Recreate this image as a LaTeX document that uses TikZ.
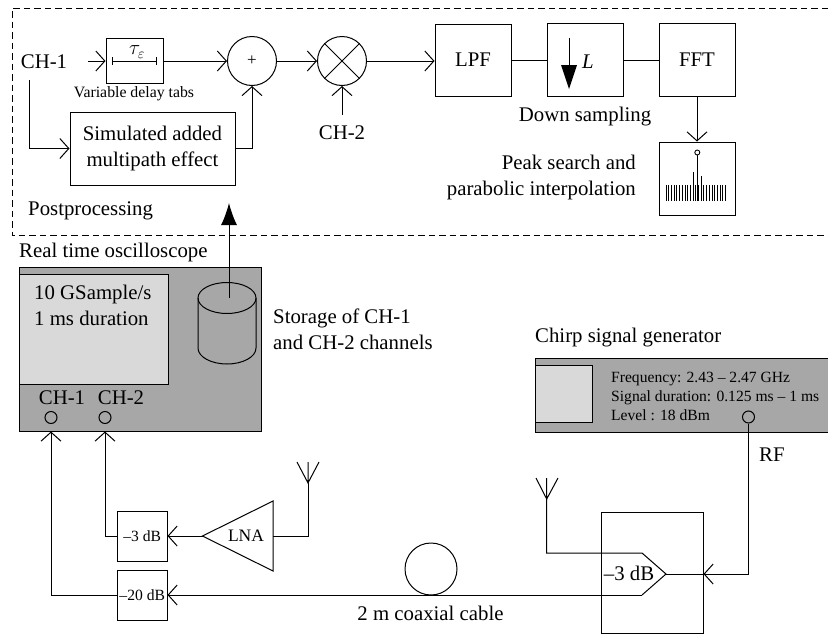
\documentclass[tikz,border=0pt]{standalone}
\usepackage{fontspec}
\setmainfont{Liberation Serif}
\usepackage{tikz}
\usetikzlibrary{arrows.meta}
\definecolor{MyCase}{rgb}{0.65,0.655,0.65}
\definecolor{MyScreen}{rgb}{0.85,0.85,0.85}
\newcommand{\bigtext}{\fontsize{20.8}{26}\selectfont}
\newcommand{\midtext}{\fontsize{15.6}{19}\selectfont}
\newcommand{\smalltext}{\fontsize{15.8}{16}\selectfont}
\tikzset{
  block/.style={draw, line width=1pt, inner sep=0pt, font=\bigtext, align=center},
  sumnode/.style={draw, circle, line width=1pt, inner sep=0pt, minimum size=49pt, font=\bigtext},
  port/.style={draw, circle, line width=1pt, inner sep=0pt, minimum size=12pt},
  label/.style={inner sep=0pt, font=\bigtext, align=left},
  wire/.style={line width=1pt},
  feed/.style={line width=1pt, -{Straight Barb[length=9pt,width=20pt,line width=1pt]}}
}
\begin{document}
\begin{tikzpicture}[x=1pt,y=-1pt]
  \useasboundingbox (0,0) rectangle (828,635);
  % postprocessing part
  \draw [wire, dash pattern=on 6.5pt off 4pt] (828,8) -- (12,8) -- (12,235) -- (828,235);
  \node [label] (ch1in) at (44,62) {CH-1};
  \node [block, minimum width=57pt, minimum height=45pt] (delay) at (134.5,61) {};
  \node [block, minimum width=165pt, minimum height=73pt] (multipath) at (152.5,148.5) {Simulated added\\multipath effect};
  \node [sumnode] (adder) at (252,61) {\fontsize{17}{17}\selectfont +};
  \node [sumnode] (mixer) at (342,61) {};
  \draw [wire] (mixer.45) -- (mixer.225) (mixer.135) -- (mixer.315);
  \node [label] (ch2in) at (342,133) {CH-2};
  \node [block, minimum width=76pt, minimum height=72pt] (lpf) at (473,60) {LPF};
  \node [block, minimum width=76pt, minimum height=73pt] (down) at (585,60) {};
  \node [block, minimum width=76pt, minimum height=73pt] (fft) at (697,60) {FFT};
  \node [block, minimum width=76pt, minimum height=73pt] (peak) at (697,178.5) {};
  \node [label] at (137,52) {\fontsize{20}{20}\selectfont$\tau_{\varepsilon}$};
  \node [label, font=\smalltext] (tabs) at (134,94) {Variable delay tabs};
  \node [label, anchor=west] (post) at (28,211) {Postprocessing};
  \node [label] (downlab) at (585,117) {Down sampling};
  \node [label, align=right, anchor=east] (peaklab) at (636,177) {Peak search and\\parabolic interpolation};
  \node [label] (lfactor) at (588,62) {\textit{L}};
  % delay bracket
  \draw [wire, {Bar[width=8pt]}-{Bar[width=8pt]}] (112,61) -- (157,61);
  % decimation arrow
  \draw [wire] (569,38) -- (569,70);
  \fill (561,65) -- (577,65) -- (569,89) -- cycle;
  % spectrum in the peak box
  \foreach \x in {0,...,22}
    \draw [line width=0.8pt] (666+\x*2.7,185) -- (666+\x*2.7,201);
  \draw [wire] (693.3,172) -- (693.3,201);
  \draw [wire] (701.3,176) -- (701.3,201);
  \draw [wire] (697.3,155) -- (697.3,201);
  \draw [line width=0.9pt, fill=white] (697.3,152.5) circle (2.5pt);
  % connectors of the upper chain
  \draw [feed] (ch1in.east)++(21,-1) -- (delay.west);
  \draw [feed] (delay.east) -- (adder.west);
  \draw [feed] (adder.east) -- (mixer.west);
  \draw [feed] (mixer.east) -- (mixer.east -| lpf.west);
  \draw [wire] (lpf.east) -- (down.west);
  \draw [wire] (down.east) -- (fft.west);
  \draw [feed] (fft.south) -- (peak.north);
  \draw [feed] (ch2in.north)++(0,-11) -- (mixer.south);
  \draw [feed] (multipath.east) -| (adder.south);
  \draw [feed] (29,80) |- (multipath.west);
  % oscilloscope
  \node [label] (scopelab) at (19,252) [anchor=west] {Real time oscilloscope};
  \node [block, fill=MyCase, minimum width=242pt, minimum height=164pt] (scope) at (140,349) {};
  \node [block, fill=MyScreen, minimum width=149pt, minimum height=110pt] (screen) at (93.5,329) {};
  \node [label, anchor=north west] (rate) at (34,285) {10 GSample/s\\1 ms duration};
  \node [label] (ch1lab) at (62,398) {CH-1};
  \node [label] (ch2lab) at (121,398) {CH-2};
  \node [port] (port1) at (51,417.5) {};
  \node [port] (port2) at (105,417.5) {};
  % storage cylinder
  \draw [wire] (198,298) -- (198,348) arc [start angle=180, end angle=360, x radius=29pt, y radius=16pt] -- (256,298);
  \draw [wire] (227,298) ellipse [x radius=29pt, y radius=15.5pt];
  \coordinate (disk) at (229,298);
  \coordinate (bigtip) at (229,203);
  \draw [wire, -{Latex[length=22pt,width=16pt]}] (disk) -- (bigtip);
  \node [label, anchor=west] (storelab) at (273,329.5) {Storage of CH-1\\and CH-2 channels};
  % attenuators and amplifier
  \node [block, minimum width=49.5pt, minimum height=50pt, font=\midtext] (att3) at (142.25,536) {–3 dB};
  \node [block, minimum width=49.5pt, minimum height=50pt, font=\midtext] (att20) at (142.25,595) {–20 dB};
  \coordinate (lnatip) at (202.5,536);
  \coordinate (lnatop) at (273,501);
  \coordinate (lnabot) at (273,571);
  \draw [wire] (lnatip) -- (lnatop) -- (lnabot) -- cycle;
  \node [label, font=\fontsize{17.5}{20}\selectfont] (lna) at (246,536) {LNA};
  \coordinate (lnaout) at (273,536);
  \draw [feed] (lnatip) -- (att3.east);
  \draw [feed] (att3.west) -| (port2.south |- scope.south);
  \draw [feed] (att20.west) -| (port1.south |- scope.south);
  % antenna at the amplifier
  \coordinate (ant1) at (308,483);
  \draw [wire] (lnaout) -| (ant1);
  \draw [wire] (297,462) -- (ant1) -- (319,462) (ant1) -- (308,462);
  % signal generator
  \node [label, anchor=west] (chirplab) at (535,338) {Chirp signal generator};
  \draw [block, fill=MyCase] (840,358) -- (535,358) -- (535,432) -- (840,432);
  \node [block, fill=MyScreen, minimum width=57pt, minimum height=57pt] (genscreen) at (563.5,393.5) {};
  \node [label, anchor=west, font=\midtext] (gentext) at (611,396) {Frequency: 2.43 – 2.47 GHz\\Signal duration: 0.125 ms – 1 ms\\Level : 18 dBm};
  \node [port] (rfport) at (748.5,417) {};
  \node [label, anchor=west] (rflab) at (759,455) {RF};
  % splitter and cable
  \node [block, minimum width=102pt, minimum height=121pt] (split) at (652,572.5) {};
  \coordinate (spltop) at (642,553);
  \coordinate (spltip) at (666,574);
  \coordinate (splbot) at (642,595);
  \coordinate (ant2) at (546.7,499);
  \draw [wire] (ant2) |- (spltop) -- (spltip) -- (splbot);
  \draw [feed] (splbot) -- (att20.east);
  \draw [wire] (536,478) -- (ant2) -- (558,478) (ant2) -- (546.7,478);
  \node [label] (splab) at (629,573) {–3 dB};
  \draw [wire] (spltip) -- (split.east |- spltip);
  \draw [feed] (rfport.south) |- (split.east |- spltip);
  \node [draw, circle, line width=1pt, inner sep=0pt, minimum size=52pt] (coil) at (431,569) {};
  \node [label] (coaxlab) at (430.5,613) {2 m coaxial cable};
\end{tikzpicture}
\end{document}
